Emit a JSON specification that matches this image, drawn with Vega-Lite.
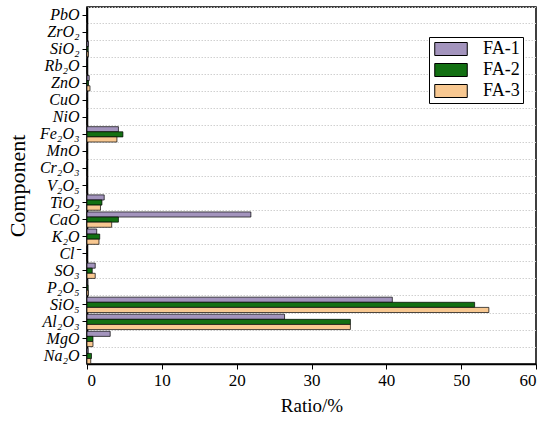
{
  "$schema": "https://vega.github.io/schema/vega-lite/v6.json",
  "width": 449,
  "height": 357,
  "autosize": {"type": "none"},
  "padding": {"left": 87, "top": 7, "right": 14, "bottom": 58},
  "background": "white",
  "config": {
    "view": {"stroke": "black", "strokeWidth": 1.5}
  },
  "data": {
    "values": [
      {"component": "PbO", "series": "FA-1", "value": 0.0},
      {"component": "PbO", "series": "FA-2", "value": 0.0},
      {"component": "PbO", "series": "FA-3", "value": 0.0},
      {"component": "ZrO₂", "series": "FA-1", "value": 0.05},
      {"component": "ZrO₂", "series": "FA-2", "value": 0.03},
      {"component": "ZrO₂", "series": "FA-3", "value": 0.03},
      {"component": "SiO₂", "series": "FA-1", "value": 0.2},
      {"component": "SiO₂", "series": "FA-2", "value": 0.15},
      {"component": "SiO₂", "series": "FA-3", "value": 0.2},
      {"component": "Rb₂O", "series": "FA-1", "value": 0.02},
      {"component": "Rb₂O", "series": "FA-2", "value": 0.02},
      {"component": "Rb₂O", "series": "FA-3", "value": 0.02},
      {"component": "ZnO", "series": "FA-1", "value": 0.3},
      {"component": "ZnO", "series": "FA-2", "value": 0.2},
      {"component": "ZnO", "series": "FA-3", "value": 0.4},
      {"component": "CuO", "series": "FA-1", "value": 0.05},
      {"component": "CuO", "series": "FA-2", "value": 0.03},
      {"component": "CuO", "series": "FA-3", "value": 0.03},
      {"component": "NiO", "series": "FA-1", "value": 0.03},
      {"component": "NiO", "series": "FA-2", "value": 0.02},
      {"component": "NiO", "series": "FA-3", "value": 0.02},
      {"component": "Fe₂O₃", "series": "FA-1", "value": 4.2},
      {"component": "Fe₂O₃", "series": "FA-2", "value": 4.8},
      {"component": "Fe₂O₃", "series": "FA-3", "value": 4.0},
      {"component": "MnO", "series": "FA-1", "value": 0.05},
      {"component": "MnO", "series": "FA-2", "value": 0.04},
      {"component": "MnO", "series": "FA-3", "value": 0.04},
      {"component": "Cr₂O₃", "series": "FA-1", "value": 0.03},
      {"component": "Cr₂O₃", "series": "FA-2", "value": 0.02},
      {"component": "Cr₂O₃", "series": "FA-3", "value": 0.02},
      {"component": "V₂O₅", "series": "FA-1", "value": 0.03},
      {"component": "V₂O₅", "series": "FA-2", "value": 0.02},
      {"component": "V₂O₅", "series": "FA-3", "value": 0.02},
      {"component": "TiO₂", "series": "FA-1", "value": 2.3},
      {"component": "TiO₂", "series": "FA-2", "value": 2.0},
      {"component": "TiO₂", "series": "FA-3", "value": 1.8},
      {"component": "CaO", "series": "FA-1", "value": 21.9},
      {"component": "CaO", "series": "FA-2", "value": 4.2},
      {"component": "CaO", "series": "FA-3", "value": 3.3},
      {"component": "K₂O", "series": "FA-1", "value": 1.3},
      {"component": "K₂O", "series": "FA-2", "value": 1.7},
      {"component": "K₂O", "series": "FA-3", "value": 1.6},
      {"component": "Cl⁻", "series": "FA-1", "value": 0.02},
      {"component": "Cl⁻", "series": "FA-2", "value": 0.02},
      {"component": "Cl⁻", "series": "FA-3", "value": 0.02},
      {"component": "SO₃", "series": "FA-1", "value": 1.1},
      {"component": "SO₃", "series": "FA-2", "value": 0.7},
      {"component": "SO₃", "series": "FA-3", "value": 1.1},
      {"component": "P₂O₅", "series": "FA-1", "value": 0.1},
      {"component": "P₂O₅", "series": "FA-2", "value": 0.15},
      {"component": "P₂O₅", "series": "FA-3", "value": 0.2},
      {"component": "SiO₅", "series": "FA-1", "value": 40.8},
      {"component": "SiO₅", "series": "FA-2", "value": 51.8},
      {"component": "SiO₅", "series": "FA-3", "value": 53.7},
      {"component": "Al₂O₃", "series": "FA-1", "value": 26.4},
      {"component": "Al₂O₃", "series": "FA-2", "value": 35.2},
      {"component": "Al₂O₃", "series": "FA-3", "value": 35.2},
      {"component": "MgO", "series": "FA-1", "value": 3.1},
      {"component": "MgO", "series": "FA-2", "value": 0.8},
      {"component": "MgO", "series": "FA-3", "value": 0.8},
      {"component": "Na₂O", "series": "FA-1", "value": 0.15},
      {"component": "Na₂O", "series": "FA-2", "value": 0.6},
      {"component": "Na₂O", "series": "FA-3", "value": 0.5}
    ]
  },
  "resolve": {"axis": {"y": "independent"}},
  "layer": [
    {
      "mark": {"type": "tick", "opacity": 0, "orient": "horizontal"},
      "encoding": {
        "y": {
          "field": "component",
          "type": "nominal",
          "sort": null,
          "scale": {"paddingInner": 0.1, "paddingOuter": 0.02},
          "axis": {
            "orient": "left",
            "title": null,
            "labels": false,
            "domain": false,
            "ticks": false,
            "tickBand": "extent",
            "grid": true,
            "gridColor": "#d0d0d0",
            "gridDash": [1.5, 1.5],
            "gridWidth": 1
          }
        },
        "x": {
          "datum": 0,
          "type": "quantitative",
          "axis": {
            "title": "Ratio/%",
            "titleFont": "Liberation Serif",
            "titleFontWeight": "normal",
            "titleFontSize": 19,
            "titleColor": "black",
            "titlePadding": 8,
            "values": [0, 10, 20, 30, 40, 50, 60],
            "labelFont": "Liberation Serif",
            "labelFontSize": 17,
            "labelColor": "black",
            "labelPadding": 3,
            "domainColor": "black",
            "domainWidth": 1.5,
            "tickColor": "black",
            "tickSize": 5,
            "grid": false
          }
        }
      }
    },
    {
      "mark": {"type": "bar", "stroke": "black", "strokeWidth": 0.7},
      "encoding": {
        "y": {
          "field": "component",
          "type": "nominal",
          "sort": null,
          "axis": {
            "orient": "left",
            "title": "Component",
            "titleFont": "Liberation Serif",
            "titleFontWeight": "normal",
            "titleFontSize": 22,
            "titleColor": "black",
            "titlePadding": 10,
            "labelFont": "Liberation Serif",
            "labelFontStyle": "italic",
            "labelFontSize": 16,
            "labelColor": "black",
            "labelPadding": 3,
            "domainColor": "black",
            "domainWidth": 1.5,
            "tickColor": "black",
            "tickSize": 5,
            "tickWidth": 1,
            "grid": false
          }
        },
        "yOffset": {
          "field": "series",
          "type": "nominal",
          "scale": {"paddingInner": 0, "paddingOuter": 0}
        },
        "x": {
          "field": "value",
          "type": "quantitative",
          "scale": {"domain": [0, 60], "nice": false},
          "axis": {
            "title": "Ratio/%",
            "titleFont": "Liberation Serif",
            "titleFontWeight": "normal",
            "titleFontSize": 19,
            "titleColor": "black",
            "titlePadding": 8,
            "values": [0, 10, 20, 30, 40, 50, 60],
            "labelFont": "Liberation Serif",
            "labelFontSize": 17,
            "labelColor": "black",
            "labelPadding": 3,
            "domainColor": "black",
            "domainWidth": 1.5,
            "tickColor": "black",
            "tickSize": 5,
            "grid": false
          }
        },
        "fill": {
          "field": "series",
          "type": "nominal",
          "scale": {
            "domain": ["FA-1", "FA-2", "FA-3"],
            "range": ["#a394bd", "#137013", "#f8c891"]
          },
          "legend": {
            "title": null,
            "orient": "none",
            "legendX": 342,
            "legendY": 30,
            "strokeColor": "black",
            "fillColor": "white",
            "padding": 3,
            "rowPadding": 3,
            "symbolType": "M-2.5,-1L2.5,-1L2.5,1L-2.5,1Z",
            "symbolSize": 169,
            "symbolOffset": 10,
            "symbolStrokeColor": "black",
            "symbolStrokeWidth": 1,
            "symbolOpacity": 1,
            "labelFont": "Liberation Serif",
            "labelFontSize": 18,
            "labelColor": "black",
            "labelOffset": 23
          }
        }
      }
    }
  ]
}
